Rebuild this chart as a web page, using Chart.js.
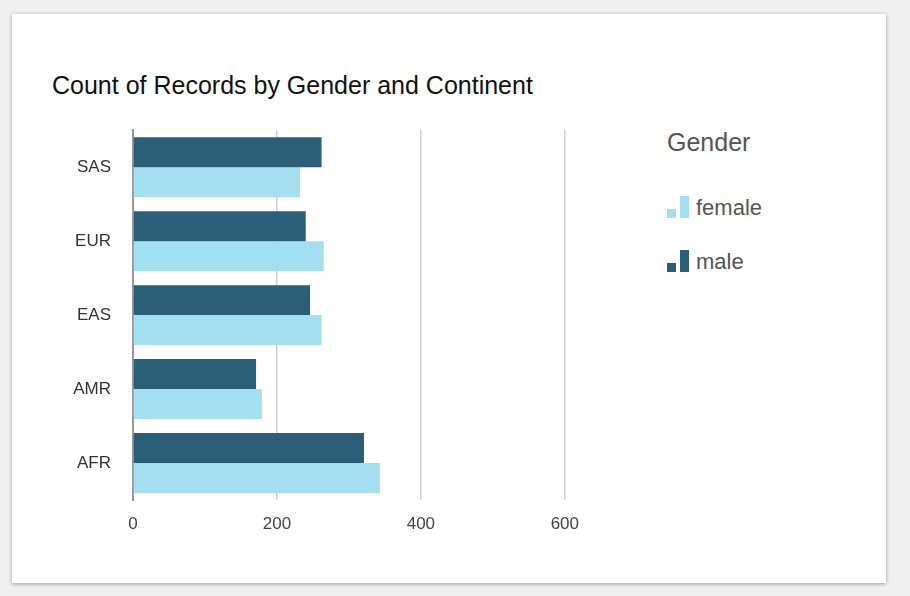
<!DOCTYPE html>
<html><head><meta charset="utf-8">
<script src="https://cdn.jsdelivr.net/npm/chart.js@4"></script>
<style>
body{margin:0;background:#f0f0f0;width:910px;height:596px;position:relative;font-family:"Liberation Sans",Arial,sans-serif;overflow:hidden}
#card{position:absolute;left:12px;top:14px;width:874px;height:569px;background:#fff;box-shadow:0 1px 4px rgba(0,0,0,0.35)}
#title{position:absolute;left:52px;top:71px;font-size:25px;color:#111}
#wrap{position:absolute;left:60px;top:106px;width:533px;height:447px}
#legend{position:absolute;left:667px;top:128px;color:#555}
#legend .h{font-size:25px;margin-bottom:38px}
#legend .it{font-size:22px;margin-bottom:28px;display:flex;align-items:flex-end}
.ic{display:inline-block;position:relative;width:24px;height:24px;margin-right:5px}
.ic i{position:absolute;bottom:3px;display:block}
</style></head><body>
<div id="card"></div>
<div id="title">Count of Records by Gender and Continent</div>
<div id="wrap"><canvas id="c"></canvas></div>
<div id="legend"><div class="h">Gender</div>
<div class="it"><span class="ic"><i style="left:0;width:9px;height:9px;background:#a3dff0"></i><i style="left:13px;width:9px;height:22px;background:#a3dff0"></i></span>female</div>
<div class="it"><span class="ic"><i style="left:0;width:9px;height:9px;background:#2b5f77"></i><i style="left:13px;width:9px;height:22px;background:#2b5f77"></i></span>male</div>
</div>
<script>
const categories=["SAS","EUR","EAS","AMR","AFR"];
const male=[262,240,246,171,321];
const female=[232,265,262,179,343];
const xTicks=[0,200,400,600];
new Chart(document.getElementById('c'),{type:'bar',
data:{labels:categories,datasets:[
{label:'male',data:male,backgroundColor:'#2b5f77'},
{label:'female',data:female,backgroundColor:'#a3dff0'}]},
options:{indexAxis:'y',responsive:true,maintainAspectRatio:false,animation:false,
layout:{padding:{right:15}},
categoryPercentage:0.81,barPercentage:1,
plugins:{legend:{display:false},tooltip:{enabled:false}},
scales:{
x:{min:0,max:600,afterBuildTicks:a=>{a.ticks=xTicks.map(v=>({value:v}))},
 grid:{color:'#cfcfcf',lineWidth:1.5,drawTicks:false},border:{display:false},
 ticks:{font:{size:17,family:'Liberation Sans'},color:'#444',padding:14},
 afterFit:a=>{a.height=53}},
y:{grid:{display:false},border:{color:'#999',width:2},
 ticks:{font:{size:17,family:'Liberation Sans'},color:'#333',padding:14},
 afterFit:a=>{a.width=73}}}}});
</script></body></html>
